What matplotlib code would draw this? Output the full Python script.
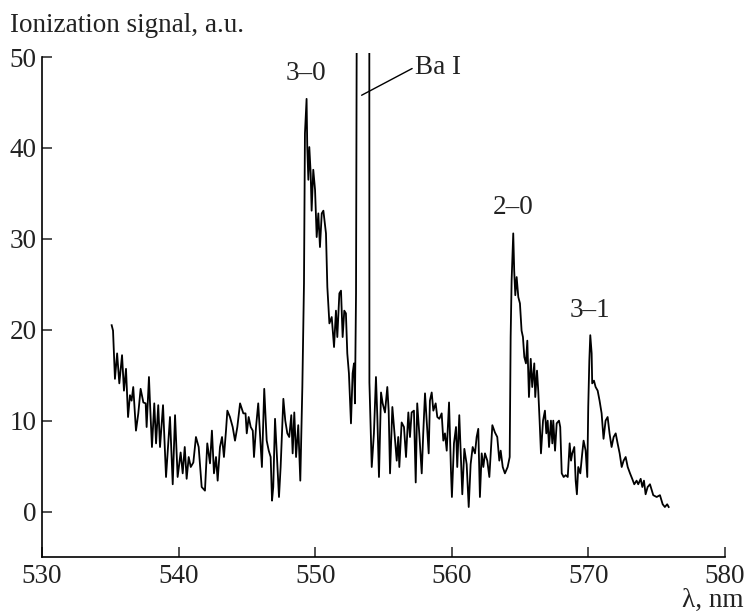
import matplotlib
matplotlib.use("Agg")
import matplotlib.pyplot as plt

# wavelength (nm) and ionization signal (a.u.)
wl = [535.1, 535.2, 535.34, 535.5, 535.66, 535.86, 536.0, 536.15, 536.3, 536.44,
      536.56, 536.68, 536.88, 537.05, 537.22, 537.42, 537.59, 537.66, 537.83, 537.9,
      538.05, 538.22, 538.35, 538.51, 538.64, 538.86, 539.08, 539.37, 539.57, 539.74,
      539.93, 540.15, 540.3, 540.45, 540.59, 540.74, 540.89, 541.08, 541.27, 541.47,
      541.69, 541.93, 542.1, 542.3, 542.44, 542.59, 542.74, 542.86, 543.03, 543.18,
      543.32, 543.47, 543.57, 543.76, 543.96, 544.13, 544.3, 544.5, 544.74, 544.9,
      544.99, 545.13, 545.28, 545.43, 545.52, 545.67, 545.83, 545.96, 546.1, 546.27,
      546.45, 546.6, 546.74, 546.84, 546.93, 547.06, 547.18, 547.35, 547.47, 547.67,
      547.81, 547.96, 548.1, 548.25, 548.35, 548.47, 548.6, 548.76, 548.91, 549.06,
      549.18, 549.25, 549.37, 549.42, 549.5, 549.57, 549.67, 549.74, 549.86, 549.99,
      550.11, 550.23, 550.35, 550.48, 550.6, 550.79, 550.89, 551.04, 551.21, 551.38,
      551.52, 551.62, 551.77, 551.89, 552.01, 552.13, 552.25, 552.35, 552.47, 552.62,
      552.74, 552.84, 552.91, 552.99, 553.07, 553.96, 553.97, 554.14,
      554.3, 554.45, 554.55, 554.67, 554.82, 554.94, 555.11, 555.28, 555.38, 555.48,
      555.65, 555.79, 555.97, 556.08, 556.16, 556.33, 556.5, 556.65, 556.82, 556.94,
      557.06, 557.23, 557.36, 557.47, 557.62, 557.8, 557.91, 558.04, 558.16, 558.31,
      558.4, 558.53, 558.65, 558.82, 558.94, 559.09, 559.26, 559.38, 559.5, 559.63,
      559.8, 559.94, 560.01, 560.16, 560.31, 560.4, 560.55, 560.65, 560.77, 560.92,
      561.09, 561.24, 561.38, 561.53, 561.7, 561.82, 561.94, 562.06, 562.19, 562.31,
      562.43, 562.6, 562.75, 562.97, 563.16, 563.33, 563.48, 563.58, 563.73, 563.89,
      564.09, 564.24, 564.31, 564.38, 564.5, 564.57, 564.65, 564.75, 564.87, 564.99,
      565.11, 565.21, 565.31, 565.43, 565.53, 565.65, 565.78, 565.89, 566.04, 566.11,
      566.24, 566.33, 566.43, 566.53, 566.68, 566.82, 566.92, 567.02, 567.12, 567.26,
      567.36, 567.43, 567.56, 567.68, 567.85, 567.94, 568.05, 568.19, 568.34, 568.49,
      568.63, 568.73, 568.82, 568.97, 569.07, 569.16, 569.26, 569.41, 569.55, 569.65,
      569.8, 569.92, 569.99, 570.07, 570.14, 570.24, 570.28, 570.41, 570.53, 570.68,
      570.82, 570.97, 571.11, 571.26, 571.41, 571.55, 571.7, 571.85, 572.0, 572.14,
      572.29, 572.44, 572.58, 572.73, 572.88, 573.05, 573.21, 573.36, 573.53, 573.65,
      573.83, 573.95, 574.07, 574.19, 574.34, 574.51, 574.75, 575.0, 575.24, 575.44,
      575.6, 575.77, 575.88]

signal = [20.5, 19.9, 14.6, 17.4, 14.1, 17.2, 13.3, 15.7, 10.4, 12.8,
          12.2, 13.7, 8.9, 10.8, 13.5, 12.0, 11.9, 9.3, 14.8, 12.2,
          7.1, 11.9, 7.5, 11.7, 7.1, 11.7, 3.8, 10.4, 3.0, 10.6,
          3.8, 6.5, 4.2, 7.1, 3.6, 6.0, 4.9, 5.4, 8.2, 7.1,
          2.7, 2.3, 7.5, 5.3, 8.9, 4.2, 6.0, 3.4, 7.1, 8.2,
          6.0, 8.9, 11.1, 10.4, 9.3, 7.8, 9.3, 11.9, 10.8, 10.8,
          8.6, 10.4, 9.3, 8.9, 6.0, 9.3, 11.9, 8.6, 4.9, 13.5,
          7.8, 6.7, 6.0, 1.2, 2.7, 10.2, 6.7, 1.6, 4.9, 12.4,
          10.0, 8.6, 8.2, 10.6, 6.4, 10.9, 6.0, 9.5, 3.4, 13.7,
          25.1, 41.6, 45.4, 40.1, 36.5, 40.1, 37.2, 33.1, 37.6, 35.4,
          30.2, 32.8, 29.1, 32.8, 33.1, 30.6, 24.7, 20.7, 21.4, 18.1,
          22.1, 19.2, 24.0, 24.3, 19.2, 22.1, 21.8, 17.4, 15.2, 9.7,
          15.2, 16.3, 11.9, 24.0, 70.0, 70.0, 14.2, 4.9,
          8.6, 14.8, 10.4, 3.8, 13.1, 11.9, 10.9, 13.7, 11.1, 4.2,
          11.5, 8.9, 5.6, 8.2, 4.9, 9.8, 9.3, 6.0, 10.9, 8.2,
          10.9, 11.1, 3.2, 11.9, 8.6, 4.2, 8.6, 13.0, 10.0, 6.4,
          12.2, 13.1, 11.1, 11.9, 10.4, 10.2, 10.8, 7.8, 8.6, 6.7,
          12.0, 4.5, 1.6, 7.5, 9.3, 4.9, 10.6, 6.7, 1.9, 6.9,
          5.2, 0.5, 5.2, 7.1, 6.4, 8.2, 9.1, 1.6, 6.4, 4.9,
          6.4, 5.6, 3.8, 9.5, 8.7, 8.2, 5.6, 6.7, 4.9, 4.2,
          4.9, 6.0, 19.2, 25.4, 30.6, 26.5, 23.8, 25.8, 23.6, 22.9,
          19.9, 19.2, 17.0, 16.3, 18.8, 12.6, 16.8, 13.7, 16.3, 12.6,
          15.5, 13.3, 10.0, 6.4, 10.0, 11.1, 8.6, 10.0, 7.1, 10.0,
          7.5, 10.0, 6.7, 9.7, 10.0, 9.3, 4.2, 3.8, 4.0, 3.8,
          7.5, 5.6, 6.4, 7.1, 3.4, 1.9, 4.9, 4.2, 6.4, 7.8,
          6.7, 3.8, 11.5, 16.6, 19.4, 17.4, 14.1, 14.4, 13.7, 13.3,
          12.2, 10.8, 8.0, 10.0, 10.4, 8.6, 7.1, 8.2, 8.6, 7.5,
          6.4, 4.9, 5.6, 6.0, 4.9, 4.2, 3.6, 3.0, 3.4, 3.0,
          3.6, 2.7, 3.4, 1.9, 2.7, 3.0, 1.8, 1.6, 1.8, 0.8,
          0.5, 0.8, 0.5]

xticks = [530, 540, 550, 560, 570, 580]
yticks = [0, 10, 20, 30, 40, 50]

plt.rcParams['font.family'] = ['Liberation Serif', 'DejaVu Serif']
plt.rcParams['font.size'] = 19.5

fig = plt.figure(figsize=(7.46, 6.16), dpi=100)
ax = fig.add_axes([0.0563, 0.0958, 0.9155, 0.8182])

ax.plot(wl, signal, color='black', lw=1.3)

ax.set_xlim(530, 580)
ax.set_ylim(-5, 50.45)
ax.set_xticks(xticks)
ax.set_yticks(yticks)
ax.spines['top'].set_visible(False)
ax.spines['right'].set_visible(False)
ax.spines['left'].set_bounds(-5, 50)
ax.spines['left'].set_linewidth(1.2)
ax.spines['bottom'].set_linewidth(1.2)
ax.tick_params(axis='x', direction='in', length=7, width=1.1, pad=5, colors='#222222')
ax.tick_params(axis='y', direction='in', length=7, width=1.1, pad=4, colors='#222222')

ax.text(549.3, 48.2, "3–0", ha='center', va='center', color='#222222')
ax.text(564.5, 33.4, "2–0", ha='center', va='center', color='#222222')
ax.text(570.1, 22.1, "3–1", ha='center', va='center', color='#222222')
ax.annotate("Ba I", xy=(553.4, 45.8), xytext=(557.3, 48.9),
            ha='left', va='center', color='#222222',
            arrowprops=dict(arrowstyle='-', color='black', lw=1.0,
                            shrinkA=0, shrinkB=0, relpos=(0, 0.5)))

fig.text(0.014, 0.959, "Ionization signal, a.u.", ha='left', va='center', color='#222222')
fig.text(0.997, 0.026, "λ, nm", ha='right', va='center', color='#222222')

fig.savefig("out.png", dpi=100)
